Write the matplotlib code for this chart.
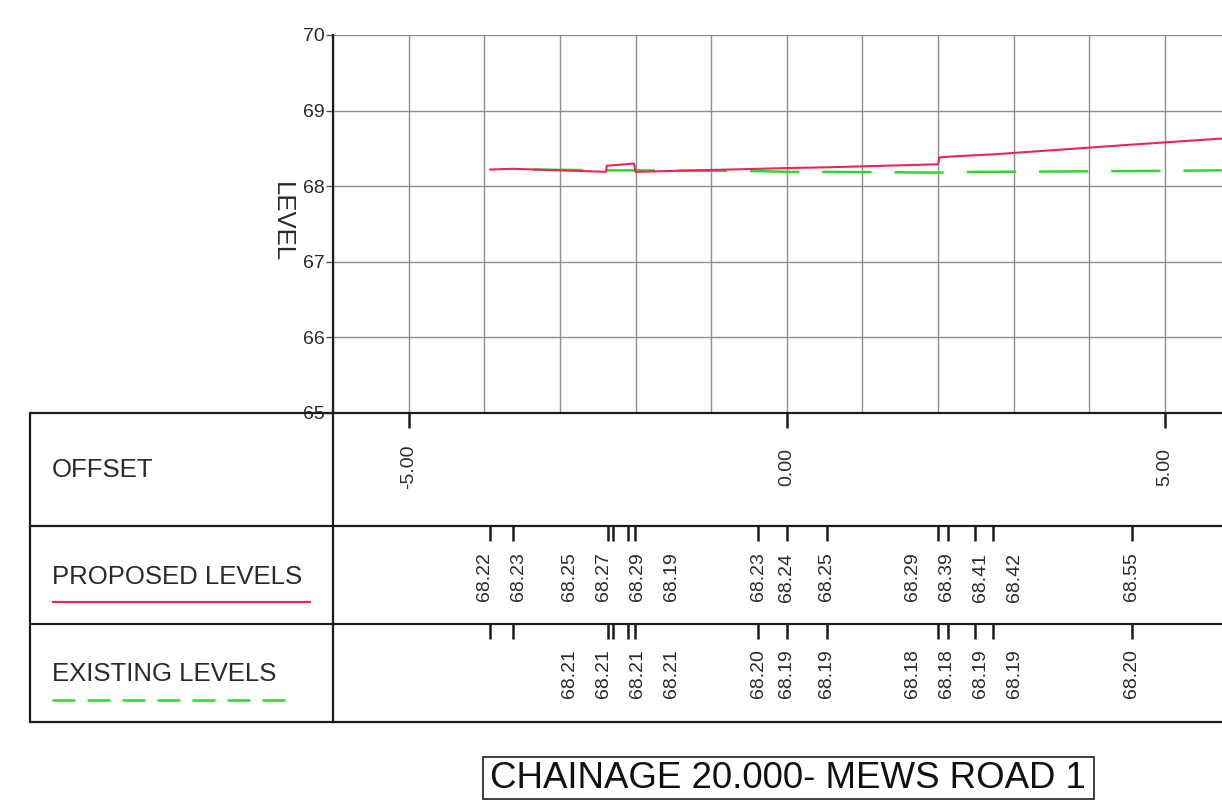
import numpy as np
import matplotlib
matplotlib.use("Agg")
import matplotlib.pyplot as plt
from matplotlib.patches import Rectangle

plt.rcParams['font.family'] = ['Liberation Sans', 'DejaVu Sans']
plt.rcParams['lines.scale_dashes'] = False

# ---------------- data ----------------
title = "CHAINAGE 20.000- MEWS ROAD 1"
y_label = "LEVEL"
row_titles = ["OFFSET", "PROPOSED LEVELS", "EXISTING LEVELS"]

level_ticks = [65, 66, 67, 68, 69, 70]
offset_ticks = [-5.0, 0.0, 5.0]
offset_tick_labels = ["-5.00", "0.00", "5.00"]

# tabulated stations (offset) and levels
stations = [-3.92, -3.62, -2.37, -2.30, -2.10, -2.01, -0.38, 0.00, 0.53,
            2.00, 2.13, 2.49, 2.72, 4.56]
proposed_labels = ["68.22", "68.23", "68.25", "68.27", "68.29", "68.19", "68.23",
                   "68.24", "68.25", "68.29", "68.39", "68.41", "68.42", "68.55"]
existing_labels = ["", "", "68.21", "68.21", "68.21", "68.21", "68.20",
                   "68.19", "68.19", "68.18", "68.18", "68.19", "68.19", "68.20"]

# drawn profiles
proposed_x = [-3.92, -3.62, -2.39, -2.38, -2.02, -2.00, -0.38, 0.00, 0.53,
              2.00, 2.02, 2.13, 2.49, 2.72, 4.56, 5.75]
proposed_y = [68.22, 68.23, 68.19, 68.27, 68.30, 68.19, 68.23, 68.24, 68.25,
              68.29, 68.38, 68.39, 68.41, 68.42, 68.55, 68.63]
existing_x = [-3.35, -2.37, -2.30, -2.10, -2.01, -0.38, 0.00, 0.53,
              2.00, 2.13, 2.49, 2.72, 4.56, 5.75]
existing_y = [68.22, 68.21, 68.21, 68.21, 68.21, 68.20, 68.19, 68.19,
              68.18, 68.18, 68.19, 68.19, 68.20, 68.21]

RED = '#e8265c'
GREEN = '#2fd82f'
LINE = '#1c1c1c'
TXT = '#2a2a2a'

# ---------------- layout ----------------
W, H = 1222, 801
fig = plt.figure(figsize=(W / 100, H / 100), dpi=100)
fig.patch.set_facecolor('white')


def fax(x0, y0, x1, y1, **kw):
    return fig.add_axes([x0 / W, 1 - y1 / H, (x1 - x0) / W, (y1 - y0) / H], **kw)


XMIN, XMAX = -6.0, 5.754

# main plot
ax = fax(333, 35, 1222, 413)
ax.set_xlim(XMIN, XMAX)
ax.set_ylim(65, 70)
ax.set_xticks(np.arange(-6, 6))
ax.set_yticks(level_ticks)
ax.set_yticklabels([str(v) for v in level_ticks])
ax.grid(True, color='#8e8e8e', lw=1.0)
ax.set_axisbelow(True)
for s in ['top', 'right', 'bottom']:
    ax.spines[s].set_visible(False)
ax.spines['left'].set_color(LINE)
ax.spines['left'].set_linewidth(1.6)
ax.tick_params(axis='x', length=0, labelbottom=False)
ax.tick_params(axis='y', length=5, width=1, color='#555555', labelsize=14,
               labelcolor=TXT, pad=1)

ax.plot(existing_x, existing_y, color=GREEN, lw=1.8, dashes=(35.5, 16.5),
        solid_capstyle='butt', dash_capstyle='butt', zorder=3)
ax.plot(proposed_x, proposed_y, color=RED, lw=1.5, zorder=4)


# label de-overlap: clusters closer than a threshold are spread evenly
def spread(xs, min_gap=0.35, step=0.45):
    groups = [[x] for x in xs]
    changed = True
    pos = None
    while changed:
        changed = False
        pos = []
        for g in groups:
            c = np.mean(g)
            n = len(g)
            pos.append([c + (i - (n - 1) / 2) * step for i in range(n)])
        for i in range(len(groups) - 1):
            lim = min_gap if len(groups[i]) == 1 and len(groups[i + 1]) == 1 else step
            if pos[i + 1][0] - pos[i][-1] < lim:
                groups[i] = groups[i] + groups[i + 1]
                del groups[i + 1]
                changed = True
                break
    return [p for g in pos for p in g]


label_pos = spread(stations)

rows = [(413, 526), (526, 624), (624, 722)]
row_axes = []
for (y0, y1) in rows:
    r = fax(333, y0, 1222, y1)
    r.set_xlim(XMIN, XMAX)
    r.set_ylim(0, 1)
    r.patch.set_visible(False)
    for s in r.spines.values():
        s.set_visible(False)
    r.set_yticks([])
    r.tick_params(axis='x', bottom=False, top=True, labelbottom=False,
                  direction='in', length=11, width=1.8, color=LINE)
    row_axes.append(r)

# offset row
r0 = row_axes[0]
r0.set_xticks(offset_ticks)
for x, t in zip(offset_ticks, offset_tick_labels):
    r0.text(x, 1 - (467 - 413) / (526 - 413), t, rotation=90, ha='center',
            va='center', fontsize=14, color=TXT)

# proposed row
r1 = row_axes[1]
r1.set_xticks(stations)
for x, t in zip(label_pos, proposed_labels):
    r1.text(x, 1 - (577 - 526) / (624 - 526), t, rotation=90, ha='center',
            va='center', fontsize=14, color=TXT)

# existing row
r2 = row_axes[2]
r2.set_xticks(stations)
for x, t in zip(label_pos, existing_labels):
    if t:
        r2.text(x, 1 - (674 - 624) / (722 - 624), t, rotation=90, ha='center',
                va='center', fontsize=14, color=TXT)

# overlay for table frame, legend and title
bg = fig.add_axes([0, 0, 1, 1])
bg.set_xlim(0, W)
bg.set_ylim(H, 0)
bg.axis('off')
bg.patch.set_visible(False)
for yy in [413, 526, 624, 722]:
    bg.plot([30, W + 5], [yy, yy], color=LINE, lw=1.6, solid_capstyle='butt')
bg.plot([30, 30], [413, 722], color=LINE, lw=1.6)
bg.plot([333, 333], [413, 722], color=LINE, lw=1.6)

bg.text(282, 222, y_label, rotation=270, fontsize=18.5, color=TXT,
        ha='center', va='center')

bg.text(52, 470, row_titles[0], fontsize=18.5, color=TXT, ha='left', va='center')
bg.text(52, 577, row_titles[1], fontsize=18.5, color=TXT, ha='left', va='center')
bg.text(52, 674, row_titles[2], fontsize=18.5, color=TXT, ha='left', va='center')
bg.plot([52, 311], [602, 602], color=RED, lw=1.6, solid_capstyle='butt')
bg.plot([52, 285], [700, 700], color=GREEN, lw=1.8, dashes=(16.5, 8.7),
        dash_capstyle='butt')

bg.add_patch(Rectangle((483, 757), 611, 42, fc='white', ec=LINE, lw=1.2))
bg.text(788, 778, title, fontsize=26.4, color='#111111', ha='center', va='center')

fig.savefig('out.png', dpi=100, facecolor='white')
